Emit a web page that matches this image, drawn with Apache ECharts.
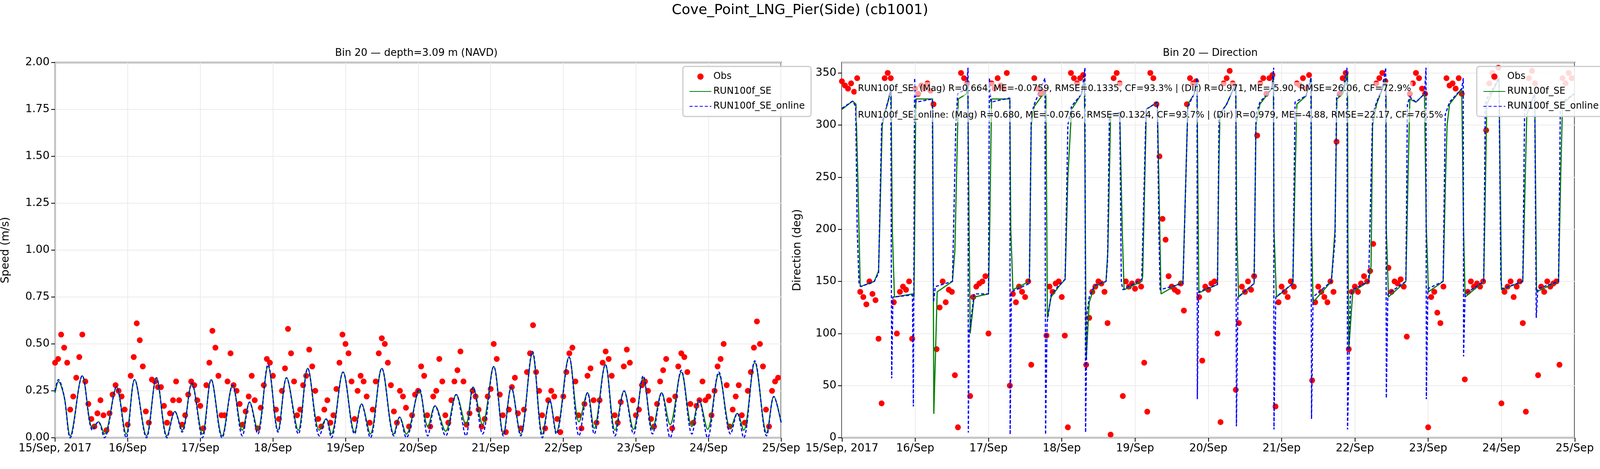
<!DOCTYPE html>
<html><head><meta charset="utf-8">
<script src="https://cdn.jsdelivr.net/npm/echarts@6/dist/echarts.min.js"></script>
<style>html,body{margin:0;padding:0;background:#fff;overflow:hidden}#c{width:100vw;height:100vh}</style>
</head><body><div id="c"></div>
<script>
// Hours since 15/Sep/2017 00:00
const tickLabels = ['15/Sep, 2017','16/Sep','17/Sep','18/Sep','19/Sep','20/Sep','21/Sep','22/Sep','23/Sep','24/Sep','25/Sep'];
const seriesNames = ['Obs','RUN100f_SE','RUN100f_SE_online'];

// Observed speed (m/s), hourly
const obsSpeed = [
0.40,0.42,0.55,0.48,0.40,0.15,0.22,0.32,0.43,0.55,0.30,0.18,0.10,0.06,0.13,0.20,0.12,0.04,0.13,0.23,0.28,0.25,0.22,0.15,
0.07,0.33,0.43,0.61,0.52,0.38,0.14,0.08,0.31,0.30,0.27,0.27,0.17,0.08,0.13,0.20,0.30,0.20,0.07,0.12,0.23,0.30,0.28,0.20,
0.17,0.05,0.28,0.40,0.57,0.48,0.33,0.12,0.12,0.30,0.45,0.28,0.25,0.18,0.07,0.14,0.22,0.33,0.20,0.05,0.16,0.28,0.42,0.40,
0.33,0.15,0.10,0.25,0.37,0.58,0.45,0.30,0.12,0.15,0.28,0.33,0.47,0.38,0.25,0.10,0.06,0.15,0.20,0.08,0.12,0.26,0.40,0.55,
0.50,0.45,0.30,0.10,0.25,0.33,0.30,0.22,0.08,0.15,0.30,0.45,0.53,0.50,0.40,0.28,0.14,0.08,0.25,0.22,0.16,0.06,0.12,0.23,
0.25,0.38,0.33,0.12,0.06,0.22,0.25,0.42,0.30,0.12,0.08,0.20,0.30,0.36,0.46,0.30,0.07,0.13,0.25,0.22,0.15,0.06,0.10,0.22,
0.26,0.50,0.42,0.23,0.12,0.03,0.15,0.27,0.32,0.13,0.05,0.15,0.35,0.45,0.60,0.35,0.25,0.12,0.05,0.20,0.25,0.22,0.10,0.03,
0.22,0.35,0.45,0.48,0.30,0.12,0.05,0.18,0.33,0.37,0.20,0.08,0.20,0.40,0.46,0.42,0.33,0.12,0.08,0.19,0.38,0.47,0.40,0.20,
0.12,0.15,0.28,0.30,0.25,0.10,0.06,0.18,0.30,0.36,0.42,0.20,0.05,0.22,0.38,0.45,0.43,0.35,0.18,0.08,0.17,0.20,0.30,0.20,
0.22,0.12,0.25,0.38,0.42,0.50,0.28,0.06,0.15,0.22,0.28,0.12,0.08,0.25,0.35,0.48,0.62,0.50,0.38,0.15,0.06,0.25,0.30,0.32];

// Model speed [hour, m/s]
const runSpeed = [[0,0.24],[1.1,0.30],[3,0.22],[5,0.01],[9,0.33],[12.4,0.05],[14.3,0.085],[16.3,0.02],[20.3,0.27],[23.5,0.02],
[26.3,0.31],[30.2,0.01],[33.5,0.32],[37,0.01],[39.6,0.14],[42,0.04],[45.2,0.29],[48.7,0.02],[51.6,0.31],[55.2,0.01],
[58.7,0.28],[61.9,0.04],[64.3,0.19],[67,0.04],[70.4,0.38],[73.7,0.04],[76.5,0.32],[80.4,0.04],[83.5,0.37],[87.4,0.04],
[89.6,0.10],[91.3,0.02],[95.2,0.35],[99,0.03],[101.3,0.18],[104.2,0.02],[108,0.37],[112,0.02],[113.9,0.11],[116.1,0.02],
[120.4,0.25],[123.2,0.06],[125.6,0.17],[129.1,0.035],[132.6,0.23],[135.8,0.07],[138.2,0.27],[141.3,0.07],[145,0.38],[148.2,0.02],
[150.8,0.27],[153.9,0.02],[157.8,0.45],[161.1,0.02],[163.5,0.20],[165.7,0.03],[169.9,0.43],[173.2,0.085],[176,0.24],[178.2,0.05],
[181.9,0.39],[185.1,0.04],[188.1,0.25],[191.2,0.045],[194.4,0.32],[197.5,0.045],[200.5,0.24],[203.3,0.07],[207,0.35],[210.5,0.06],
[212.9,0.20],[215.7,0.045],[219.4,0.34],[223.3,0.05],[225.5,0.13],[227.6,0.04],[231.3,0.40],[235.2,0.025],[237.6,0.22],[240,0.08]];
const onlineSpeed = [[0,0.25],[1.1,0.31],[3,0.22],[5,0.0],[9,0.33],[12.4,0.04],[14.3,0.085],[16.3,0.0],[20.3,0.27],[23.5,0.0],
[26.3,0.31],[30.2,0.0],[33.5,0.32],[37,0.0],[39.6,0.14],[42,0.03],[45.2,0.29],[48.7,0.0],[51.6,0.31],[55.2,0.0],
[58.7,0.28],[61.9,0.01],[64.3,0.19],[67,0.02],[70.4,0.39],[73.7,0.03],[76.5,0.32],[80.4,0.02],[83.5,0.37],[87.4,0.01],
[89.6,0.10],[91.3,0.0],[95.2,0.35],[99,0.02],[101.3,0.18],[104.2,0.0],[108,0.37],[112,0.01],[113.9,0.11],[116.1,0.0],
[120.4,0.26],[123.2,0.01],[125.6,0.17],[129.1,0.01],[132.6,0.23],[135.8,0.01],[138.2,0.27],[141.3,0.02],[145,0.38],[148.2,0.01],
[150.8,0.27],[153.9,0.01],[157.8,0.46],[161.1,0.0],[163.5,0.20],[165.7,0.02],[169.9,0.43],[173.2,0.01],[176,0.24],[178.2,0.02],
[181.9,0.39],[185.1,0.01],[188.1,0.25],[191.2,0.02],[194.4,0.33],[197.5,0.02],[200.5,0.24],[203.3,0.0],[207,0.36],[210.5,0.02],
[212.9,0.20],[215.7,0.0],[219.4,0.35],[223.3,0.02],[225.5,0.13],[227.6,0.0],[231.3,0.41],[235.2,0.01],[237.6,0.22],[240,0.08]];

// Observed direction (deg), hourly
const obsDir = [
342,338,335,340,332,345, 140,135,128,150,138,132,95, 33,345,350,345, 130,100,140,145,142,150,95,
335,330,338,335,340,333,320, 85,125,150,130,142,140,60, 10,350,345,340, 40,135,145,148,150,155,100,
340,335,345,338,335,350,50, 138,130,145,140,135,150,70, 345,335,330,332,98, 145,140,148,150,135,98,10,
350,345,340,345,348,70, 115,140,145,150,148,140,110, 3,345,350,340, 40,150,145,148,143,150,145,
72,25,350,345,320,270, 210,190,155,145,142,140,148,122, 320,345,340,342, 135,74,145,142,148,150,100,15,
340,345,352,340,46, 110,145,140,150,142,155, 290,340,345,330,345,348, 30,130,145,140,135,150,145,
340,338,345,335,348,55, 130,145,140,135,130,150,140, 284,330,345,350, 85,140,145,140,148,155,150,160,
186,340,345,350,342, 163,140,150,148,152,145,97, 330,340,350,345,335,330, 10,135,140,120,110,145,
345,338,340,335,345,330, 56,140,150,145,148,145,150, 295,340,350,345,355, 33,140,145,150,135,145,150,110,
25,345,352,340, 60,145,140,150,145,148,150,70, 345,340,350,345];

// Model direction [hour, deg]
const runDir = [[0,315],[3.5,323],[4.6,320],[5.2,250],[6,145],[10.6,150],[12,160],[13.2,300],[14,310],[15.3,325],[16.1,335],[16.5,200],[17.2,135],[23.2,138],[23.6,135],[24.2,325],[29.7,325],[30.1,23],[31.2,140],[36.2,150],[37,180],[38.1,325],[40.8,330],[41.2,345],[41.5,250],[42,100],[43.3,135],[48,138],[48.4,200],[49,325],[55,325],[55.3,200],[56,142],[61.4,150],[62,300],[63,318],[65.5,328],[66.8,330],[67.3,115],[68.5,135],[71,145],[73.1,152],[74,250],[75.2,315],[78.5,330],[79.4,345],[80,75],[81,130],[82.7,145],[86.5,150],[87.1,180],[88,310],[91,312],[91.8,200],[92.4,142],[98.2,150],[98.5,155],[99.7,315],[103.3,322],[104.1,200],[104.5,138],[111.7,150],[113.3,320],[115.4,330],[116.3,345],[116.7,200],[116.9,139],[123,147],[123.4,250],[123.8,310],[126,320],[129,340],[129.3,200],[129.9,135],[135,148],[135.6,300],[136.9,320],[140.8,335],[141.3,350],[141.5,200],[142.3,135],[147.7,148],[148.4,250],[149,320],[152,328],[153.7,345],[153.8,200],[154.3,130],[160.3,150],[161.5,200],[162.1,325],[164,330],[165.6,350],[165.7,200],[166,85],[167.3,140],[172.5,150],[173.3,165],[173.8,300],[175.1,320],[177,335],[178.2,345],[178.3,200],[179,135],[184.7,150],[185.4,250],[186,325],[188,322],[190.8,330],[191.4,200],[192.1,140],[196.9,150],[197.7,250],[198.2,300],[199,320],[203,335],[203.6,200],[204.1,135],[210.2,150],[210.8,250],[211.2,320],[215.2,345],[216,142],[223,150],[223.8,250],[224.3,310],[226.9,330],[227.5,140],[234.7,150],[235.4,250],[236,320],[239.8,330]];
const onlineDir = [[0,316],[3.5,323],[4.5,318],[5,200],[5.6,148],[6.2,145],[10.6,150],[12,158],[13,300],[14,312],[15.3,325],[16,337],[16.3,57],[16.7,135],[23.1,137],[23.4,30],[23.8,345],[24.3,322],[29.6,325],[30,130],[30.6,145],[36.2,150],[37.3,300],[37.9,330],[40.8,335],[41.3,355],[41.4,5],[41.7,100],[43.3,138],[48,138],[48.3,345],[48.8,322],[55,326],[55.1,3],[55.5,140],[61.4,148],[62,310],[63,320],[66.5,345],[66.7,3],[67.2,110],[68.5,137],[71,146],[73.1,152],[74,300],[75.2,318],[78.5,330],[79.6,355],[79.8,5],[80.3,120],[81,135],[82.7,146],[86.5,150],[87,170],[87.6,310],[91,312],[91.5,150],[92,142],[98.2,152],[99.6,315],[103.3,322],[103.8,200],[104.2,142],[111.7,148],[113.3,318],[115.4,330],[116.3,345],[116.4,37],[116.8,140],[123,147],[123.5,310],[126,320],[129,340],[129.2,11],[129.7,135],[135,148],[135.6,310],[136.9,322],[140.8,335],[141.4,355],[141.5,8],[142.1,135],[147.7,148],[148.4,322],[152,328],[153.6,345],[153.8,18],[154.3,135],[160.3,150],[161.5,190],[162,328],[164,333],[165.4,355],[165.6,8],[166.5,135],[167.3,142],[172.5,150],[173.8,310],[175.1,322],[177,335],[178.1,355],[178.3,38],[178.8,138],[184.7,150],[185.2,320],[186,327],[188,322],[190.8,330],[191.3,355],[191.4,37],[191.9,143],[196.9,150],[197.6,310],[199,322],[203,335],[203.5,345],[203.6,78],[204.1,138],[210.2,150],[210.7,320],[211.2,325],[215.2,345],[215.8,150],[216.3,143],[223,150],[223.6,320],[224.3,315],[226.9,330],[227.4,115],[227.9,143],[234.7,150],[235.3,320],[236,322],[239.8,330]];

const statLines = [
 'RUN100f_SE: (Mag) R=0.664, ME=-0.0759, RMSE=0.1335, CF=93.3% | (Dir) R=0.971, ME=-5.90, RMSE=26.06, CF=72.9%',
 'RUN100f_SE_online: (Mag) R=0.680, ME=-0.0766, RMSE=0.1324, CF=93.7% | (Dir) R=0.979, ME=-4.88, RMSE=22.17, CF=76.5%'];

const F = 'DejaVu Sans';
const el = document.getElementById('c');
const W = el.clientWidth || 5000;
const sx = v => v * W / 5000;
const chart = echarts.init(el);
function xAx(gi){return {type:'value',gridIndex:gi,min:0,max:240,interval:24,
  axisLine:{show:false},axisTick:{show:true,length:10,lineStyle:{color:'#000',width:2}},
  axisLabel:{fontFamily:F,fontSize:28,color:'#000',margin:14,formatter:v=>tickLabels[Math.round(v/24)]},
  splitLine:{show:true,lineStyle:{color:'#ebebeb',width:2}}};}
function yAx(gi,max,iv,name,dec){return {type:'value',gridIndex:gi,min:0,max:max,interval:iv,
  name:name,nameLocation:'middle',nameGap:gi?100:112,nameTextStyle:{fontFamily:F,fontSize:28,color:'#000'},
  axisLine:{show:false},axisTick:{show:true,length:10,lineStyle:{color:'#000',width:2}},
  axisLabel:{fontFamily:F,fontSize:28,color:'#000',margin:14,formatter:v=>v.toFixed(dec)},
  splitLine:{show:true,lineStyle:{color:'#ebebeb',width:2}}};}
function leg(left){return {data:[{name:'Obs',icon:'circle'},{name:'RUN100f_SE',itemStyle:{opacity:0}},{name:'RUN100f_SE_online',itemStyle:{opacity:0}}],
  orient:'vertical',left:left,top:170,z:50,itemWidth:56,itemHeight:16,itemGap:14,padding:[14,16,14,16],
  textStyle:{fontFamily:F,fontSize:24,color:'#000'},borderColor:'#ccc',borderWidth:3,borderRadius:6,
  backgroundColor:'rgba(255,255,255,0.85)',selectedMode:false};}
const obsStyle={type:'scatter',symbol:'circle',symbolSize:15,itemStyle:{color:'#ff0000',opacity:1},z:3};
chart.setOption({
  animation:false,
  title:[
   {text:'Cove_Point_LNG_Pier(Side) (cb1001)',left:'center',top:4,textStyle:{fontFamily:F,fontSize:36,fontWeight:'normal',color:'#000'}},
   {text:'Bin 20 — depth=3.09 m (NAVD)',left:sx(1295),textAlign:'center',top:118,textStyle:{fontFamily:F,fontSize:26,fontWeight:'normal',color:'#000'}},
   {text:'Bin 20 — Direction',left:sx(3776),textAlign:'center',top:118,textStyle:{fontFamily:F,fontSize:26,fontWeight:'normal',color:'#000'}}],
  grid:[{left:sx(149),top:160,width:sx(2292),height:960,show:true,borderColor:'#000',borderWidth:3,backgroundColor:'transparent'},
        {left:sx(2631),top:160,width:sx(2290),height:960,show:true,borderColor:'#000',borderWidth:3,backgroundColor:'transparent'}],
  xAxis:[xAx(0),xAx(1)],
  yAxis:[yAx(0,2,0.25,'Speed (m/s)',2),yAx(1,360,50,'Direction (deg)',0)],
  legend:[leg(sx(2134)),leg(sx(4615))],
  series:[
   Object.assign({name:'Obs',xAxisIndex:0,yAxisIndex:0,data:obsSpeed.map((v,i)=>[i,v])},obsStyle),
   {name:'RUN100f_SE',type:'line',xAxisIndex:0,yAxisIndex:0,data:runSpeed,showSymbol:false,symbol:'none',smooth:0.35,lineStyle:{color:'#008000',width:3},itemStyle:{color:'#008000'},z:4},
   {name:'RUN100f_SE_online',type:'line',xAxisIndex:0,yAxisIndex:0,data:onlineSpeed,showSymbol:false,symbol:'none',smooth:0.35,lineStyle:{color:'#0000ff',width:3,type:[8,5]},itemStyle:{color:'#0000ff'},z:5},
   Object.assign({name:'Obs',xAxisIndex:1,yAxisIndex:1,data:obsDir.map((v,i)=>[i,v])},obsStyle),
   {name:'RUN100f_SE',type:'line',xAxisIndex:1,yAxisIndex:1,data:runDir,showSymbol:false,symbol:'none',lineStyle:{color:'#008000',width:3},itemStyle:{color:'#008000'},z:4},
   {name:'RUN100f_SE_online',type:'line',xAxisIndex:1,yAxisIndex:1,data:onlineDir,showSymbol:false,symbol:'none',lineStyle:{color:'#0000ff',width:3,type:[8,5]},itemStyle:{color:'#0000ff'},z:5}
  ],
  graphic:[
   {type:'text',left:sx(2676),top:210,z:100,style:{text:statLines[0],font:'23px "DejaVu Sans"',fill:'#000',backgroundColor:'rgba(255,255,255,0.6)',padding:[6,4]}},
   {type:'text',left:sx(2676),top:278,z:100,style:{text:statLines[1],font:'23px "DejaVu Sans"',fill:'#000',backgroundColor:'rgba(255,255,255,0.6)',padding:[6,4]}}]
});
</script></body></html>
